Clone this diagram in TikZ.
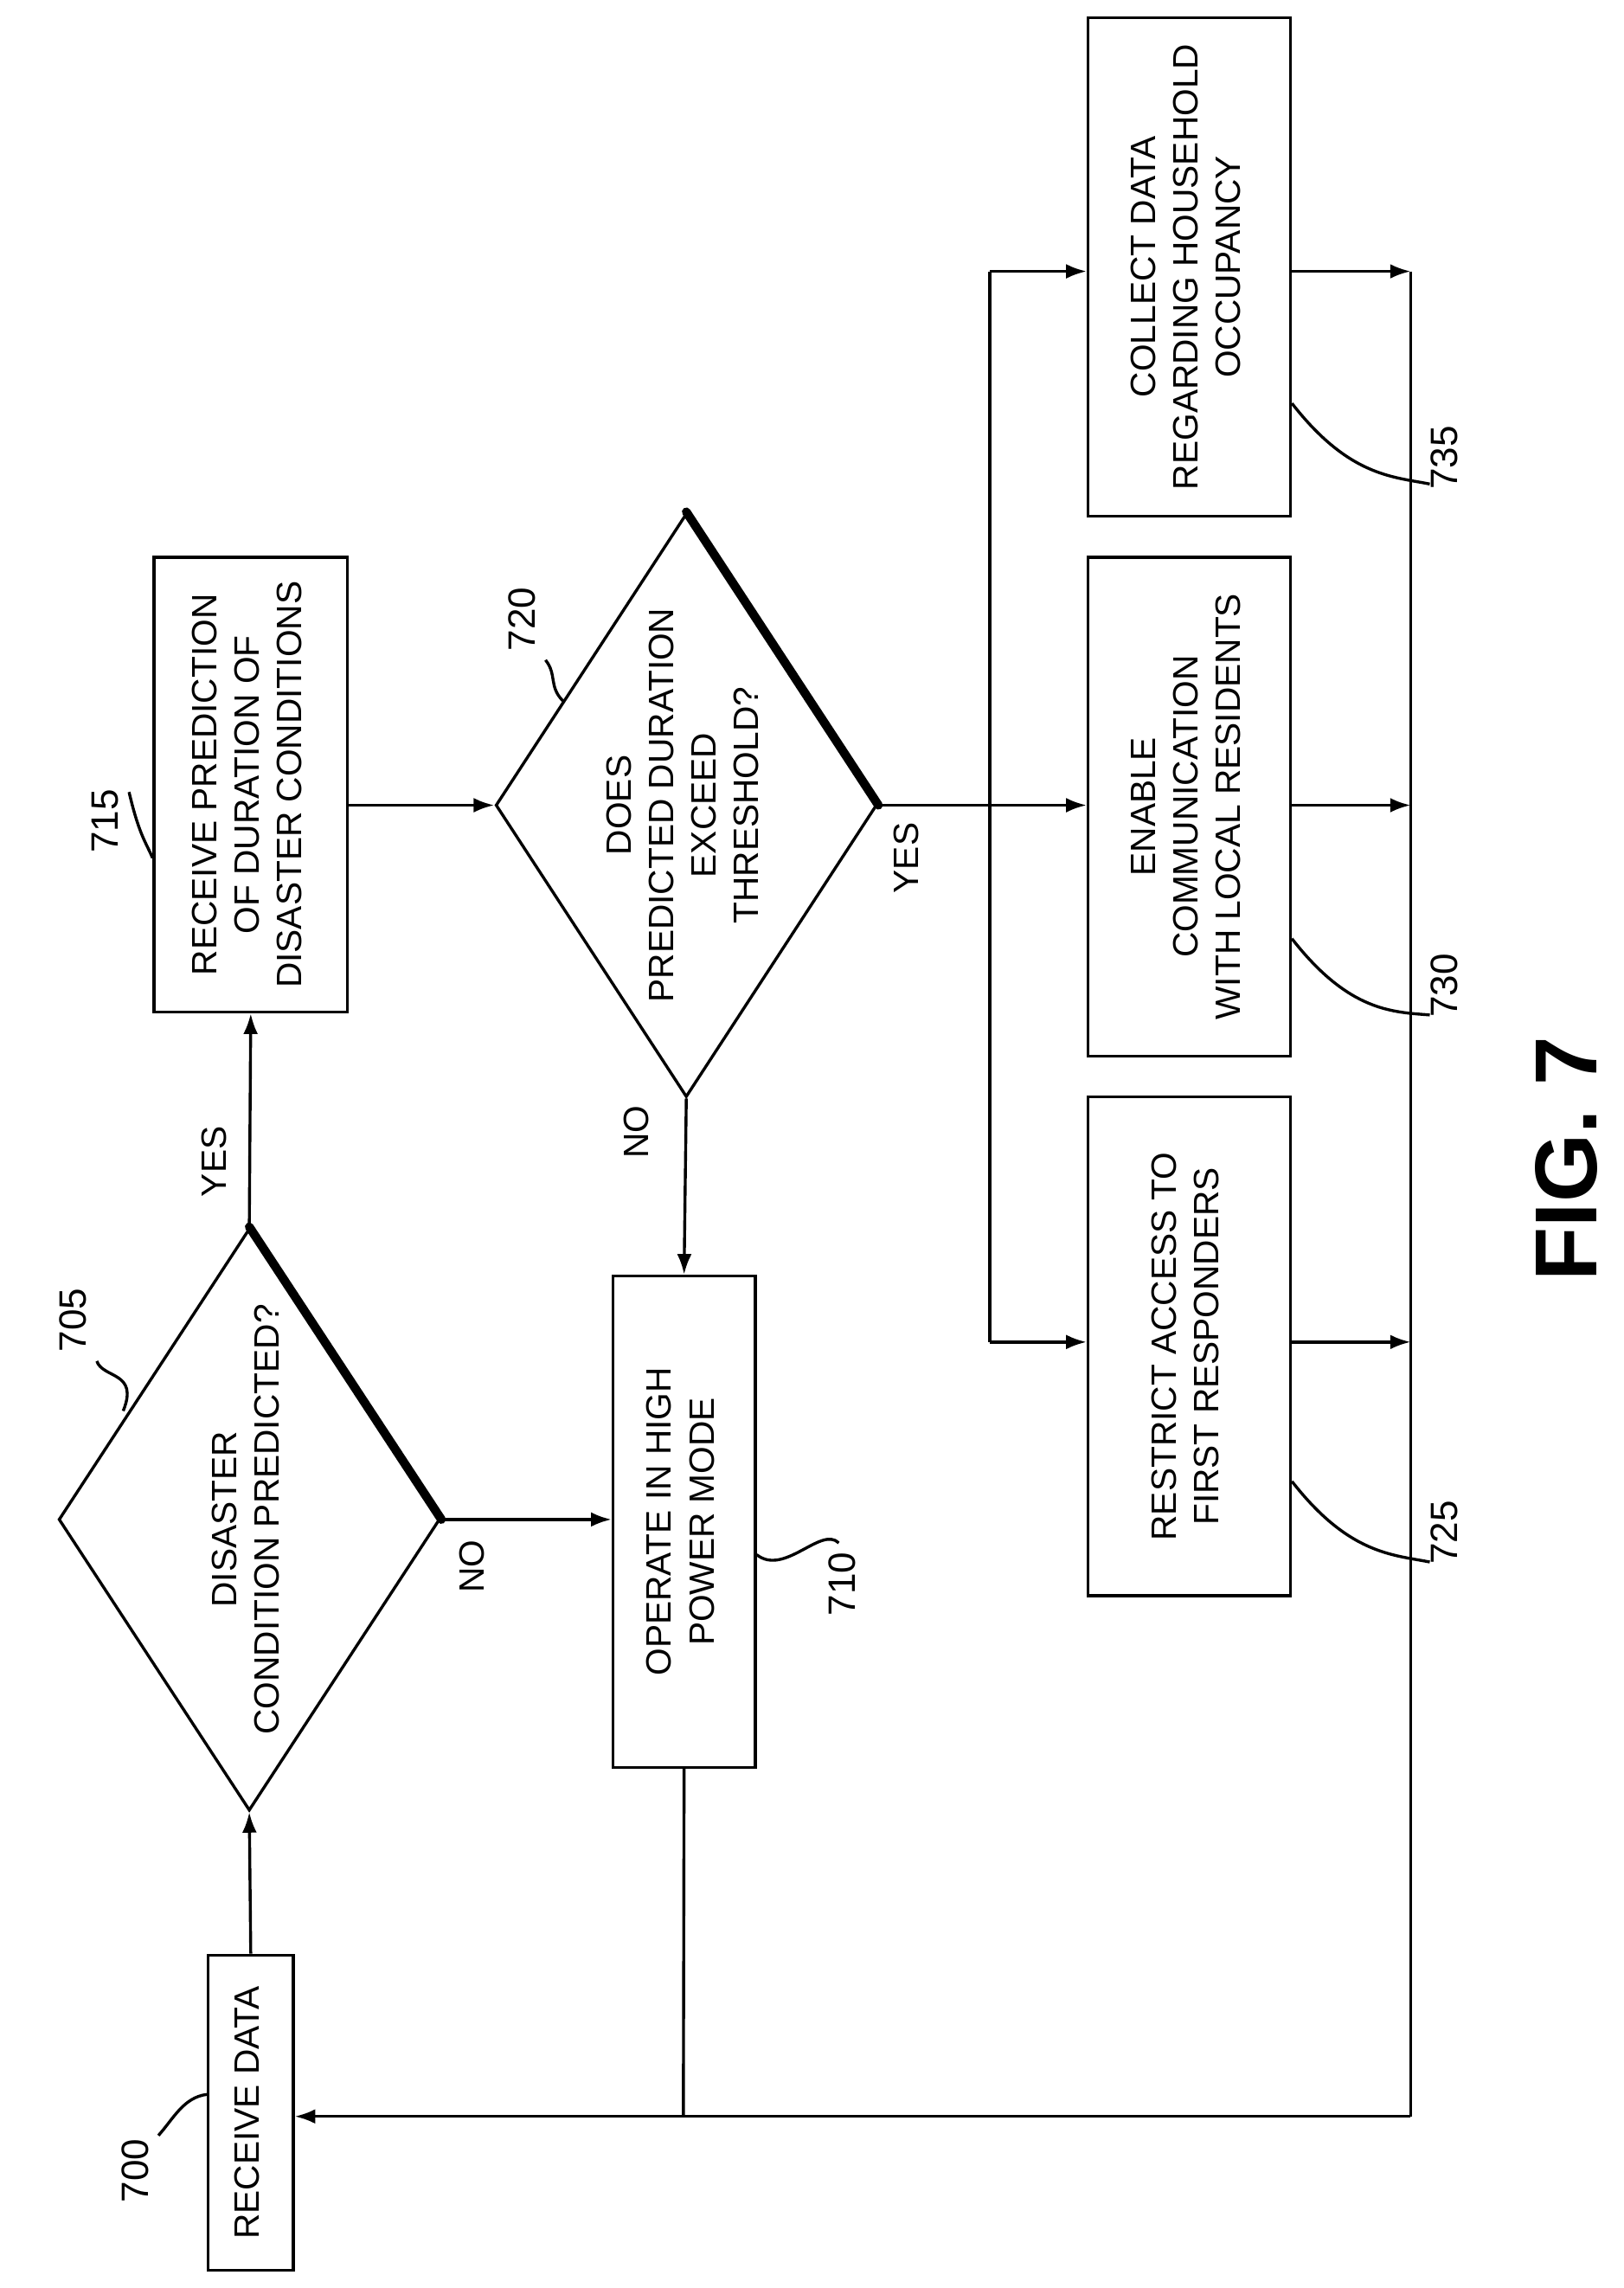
\documentclass[tikz,border=0pt]{standalone}
\usepackage{fontspec}
\setmainfont{Liberation Sans}
\usetikzlibrary{shapes.geometric,arrows.meta}
\newcommand{\rt}[1]{\rotatebox{90}{\begin{tabular}{@{}c@{}}#1\end{tabular}}}
\begin{document}
\begin{tikzpicture}[x=0.5pt,y=-0.5pt,line width=1pt,
  box/.style={draw,rectangle,inner sep=0pt,font=\fontsize{12}{14.5}\selectfont},
  dia/.style={draw,diamond,inner sep=0pt,shape aspect=0.655},
  dtxt/.style={font=\fontsize{12}{14.5}\selectfont},
  arr/.style={-{Latex[length=7pt,width=5pt]}},
  lab/.style={font=\fontsize{12}{14}\selectfont,rotate=90},
  ref/.style={font=\fontsize{13}{15}\selectfont,rotate=90}]
\useasboundingbox (0,0) rectangle (1107,1560);
% boxes
\node[box,minimum width=29pt,minimum height=107.5pt] (b700) at (171,1440.5) {\rt{RECEIVE DATA}};
\node[box,minimum width=66pt,minimum height=155pt] (b715) at (171,535) {\rt{RECEIVE PREDICTION\\OF DURATION OF\\DISASTER CONDITIONS}};
\node[box,minimum width=48.5pt,minimum height=167.5pt] (b710) at (466.5,1037.5) {\rt{OPERATE IN HIGH\\POWER MODE}};
\node[box,minimum width=69pt,minimum height=170pt] (b725) at (811,918) {\rt{RESTRICT ACCESS TO\\FIRST RESPONDERS}};
\node[box,minimum width=69pt,minimum height=170pt] (b730) at (811,550) {\rt{ENABLE\\COMMUNICATION\\WITH LOCAL RESIDENTS}};
\node[box,minimum width=69pt,minimum height=170pt] (b735) at (811,182) {\rt{COLLECT DATA\\REGARDING HOUSEHOLD\\OCCUPANCY}};
% diamonds
\node[dia,minimum width=130pt,minimum height=198.5pt] (d705) at (170,1036) {};
\node[dtxt] (t705) at (170,1036) {\rt{DISASTER\\CONDITION PREDICTED?}};
\node[dia,minimum width=130pt,minimum height=199pt] (d720) at (468,549) {};
\node[dtxt] (t720) at (468,549) {\rt{DOES\\PREDICTED DURATION\\EXCEED\\THRESHOLD?}};
\draw[line width=3pt,line cap=round] (d705.north) -- (d705.east);
\draw[line width=3pt,line cap=round] (d720.north) -- (d720.east);
% coordinates
\coordinate (ysp) at (675,549);
\coordinate (ytop) at (675,185);
\coordinate (ybot) at (675,915);
\coordinate (r735) at (962,185);
\coordinate (r730) at (962,549);
\coordinate (r725) at (962,915);
\coordinate (rb) at (962,1443);
\coordinate (j710) at (466,1443);
% connectors
\draw[arr] (b700.north) -- (d705.south);
\draw[arr] (d705.north) -- (b715.south);
\draw[arr] (d705.east) -- (b710.west|-d705.east);
\draw[arr] (b715.east|-d720.west) -- (d720.west);
\draw[arr] (d720.south) -- (b710.north);
\draw (d720.east) -- (ysp);
\draw (ytop) -- (ybot);
\draw[arr] (ytop) -- (b735.west|-ytop);
\draw[arr] (ysp) -- (b730.west|-ysp);
\draw[arr] (ybot) -- (b725.west|-ybot);
\draw[arr] (b735.east|-r735) -- (r735);
\draw[arr] (b730.east|-r730) -- (r730);
\draw[arr] (b725.east|-r725) -- (r725);
\draw (r735) -- (rb);
\draw (b710.south) -- (j710);
\draw[arr] (rb) -- (b700.east|-rb);
% edge labels
\node[lab] (yes1) at (146,792) {YES};
\node[lab] (no1) at (322,1068) {NO};
\node[lab] (no2) at (434,772) {NO};
\node[lab] (yes2) at (618,585) {YES};
% reference labels
\node[ref] (l700) at (92,1480) {700};
\node[ref] (l705) at (50,900) {705};
\node[ref] (l715) at (72,560) {715};
\node[ref] (l720) at (356,422) {720};
\node[ref] (l710) at (574,1080) {710};
\node[ref] (l725) at (985,1045) {725};
\node[ref] (l730) at (985,672) {730};
\node[ref] (l735) at (985,312) {735};
\coordinate (c700) at (108,1456);
\coordinate (c705) at (66,928);
\coordinate (c715) at (88,540);
\coordinate (c720) at (372,450);
\coordinate (c710) at (572,1052);
\coordinate (c725) at (975,1065);
\coordinate (c730) at (975,692);
\coordinate (c735) at (975,330);
\draw (c700) .. controls (118,1445) and (125,1430) .. (b700.west|-0,1428);
\draw (c705) .. controls (70,940) and (95,935) .. (84,962);
\draw (c715) .. controls (95,570) and (100,575) .. (b715.west|-0,585);
\draw (c720) .. controls (380,460) and (374,468) .. (384,478);
\draw (c710) .. controls (560,1040) and (535,1075) .. (b710.east|-0,1060);
\draw (c725) .. controls (950,1060) and (920,1060) .. (b725.east|-0,1010);
\draw (c730) .. controls (950,690) and (920,690) .. (b730.east|-0,640);
\draw (c735) .. controls (950,325) and (920,325) .. (b735.east|-0,275);
\node[font=\fontsize{30}{34}\selectfont\bfseries,rotate=90] (fig) at (1068,790) {FIG. 7};
\end{tikzpicture}
\end{document}
